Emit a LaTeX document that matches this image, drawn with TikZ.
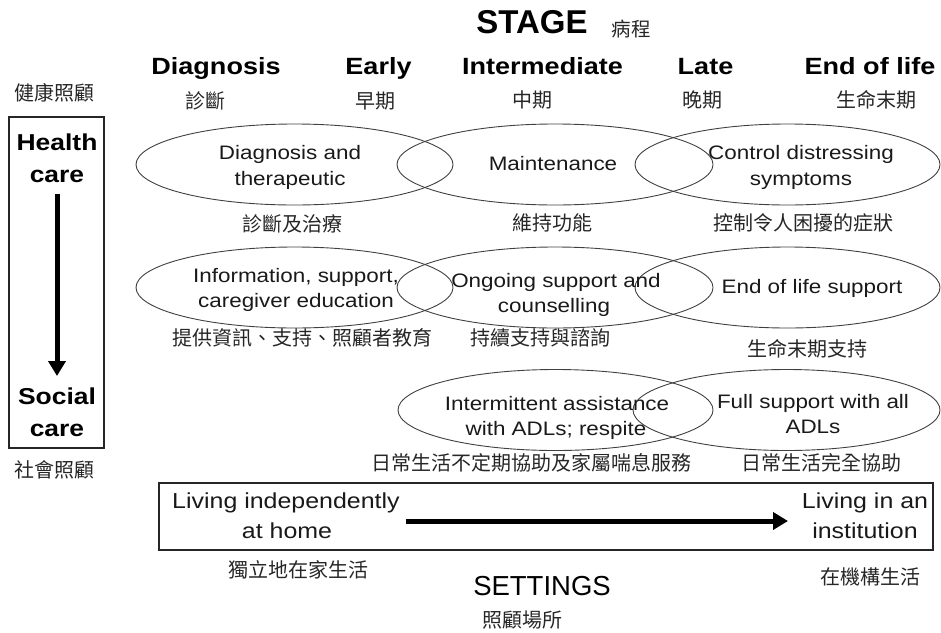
\documentclass[tikz,border=0pt]{standalone}
\usepackage{fontspec}
\setmainfont{Liberation Sans}
\newfontfamily\wide[FakeStretch=1.15]{Liberation Sans}
\newfontfamily\cjk{Noto Sans CJK TC}
\usetikzlibrary{shapes.geometric,arrows.meta}
\tikzset{
 ell/.style={draw=black!75, line width=0.9pt, ellipse, inner sep=0pt, minimum height=81pt},
 body/.style={anchor=base, inner sep=0pt, text=black!90, font=\wide\fontsize{19.5}{23}\selectfont},
 head/.style={anchor=base, inner sep=0pt, font=\wide\bfseries\fontsize{23.5}{27}\selectfont},
 boxt/.style={anchor=base, inner sep=0pt, font=\wide\bfseries\fontsize{23}{27}\selectfont},
 sett/.style={anchor=base, inner sep=0pt, text=black!90, font=\wide\fontsize{21.7}{26}\selectfont},
 zh/.style={inner sep=0pt, text=black!85, font=\cjk\fontsize{20}{24}\selectfont},
 bigarrow/.style={line width=5pt, -{Triangle[length=15pt,width=17pt]}},
 frame/.style={draw=black!85, line width=1.2pt},
}
\begin{document}
\begin{tikzpicture}[x=1pt,y=-1pt]
\useasboundingbox (0,0) rectangle (941,632);
% title
\node[anchor=base, inner sep=0pt, font=\bfseries\fontsize{33}{38}\selectfont] (stage) at (532,33) {STAGE};
\node[zh, font=\cjk\fontsize{19.5}{23}\selectfont] (stagezh) at (631,29) {病程};
% column heads
\node[head] (h1) at (216,74) {Diagnosis};
\node[head] (h2) at (378.5,74) {Early};
\node[head] (h3) at (542.5,74) {Intermediate};
\node[head] (h4) at (705.5,74) {Late};
\node[head] (h5) at (870,74) {End of life};
\node[zh] (z0) at (54,93) {健康照顧};
\node[zh] (z1) at (205,101) {診斷};
\node[zh] (z2) at (375,101) {早期};
\node[zh] (z3) at (532,100) {中期};
\node[zh] (z4) at (702,100) {晚期};
\node[zh] (z5) at (876,100) {生命末期};
% left box
\draw[frame] (9,117) rectangle (104,448);
\node[boxt] (hc1) at (57,150.5) {Health};
\node[boxt] (hc2) at (57,182) {care};
\node[boxt] (sc1) at (57,404) {Social};
\node[boxt] (sc2) at (57,436) {care};
\coordinate (va1) at (57,194);
\coordinate (va2) at (57,376);
\draw[bigarrow] (va1) -- (va2);
\node[zh] (zsc) at (54,470) {社會照顧};
% row 1
\node[ell, minimum width=317pt] (e1) at (294.5,164.5) {};
\node[ell, minimum width=316pt] (e2) at (555,164.5) {};
\node[ell, minimum width=305pt] (e3) at (787.5,164.5) {};
\node[body] (t1a) at (290,159) {Diagnosis and};
\node[body] (t1b) at (290,185) {therapeutic};
\node[body] (t2) at (553,170) {Maintenance};
\node[body] (t3a) at (801,159) {Control distressing};
\node[body] (t3b) at (801,185) {symptoms};
\node[zh] (z6) at (292,224) {診斷及治療};
\node[zh] (z7) at (552,223) {維持功能};
\node[zh] (z8) at (803,223) {控制令人困擾的症狀};
% row 2
\node[ell, minimum width=317pt] (e4) at (294.5,287.5) {};
\node[ell, minimum width=316pt] (e5) at (555,287.5) {};
\node[ell, minimum width=305pt] (e6) at (787.5,287.5) {};
\node[body] (t4a) at (296,282) {Information, support,};
\node[body] (t4b) at (296,307) {caregiver education};
\node[body] (t5a) at (556,287) {Ongoing support and};
\node[body] (t5b) at (554,312) {counselling};
\node[body] (t6) at (812,293) {End of life support};
\node[zh] (z9) at (302,338) {提供資訊、支持、照顧者教育};
\node[zh] (z10) at (540,338) {持續支持與諮詢};
\node[zh] (z11) at (807,349) {生命末期支持};
% row 3
\node[ell, minimum width=315pt] (e7) at (555.5,410) {};
\node[ell, minimum width=307pt] (e8) at (786.5,410) {};
\node[body] (t7a) at (557,410) {Intermittent assistance};
\node[body] (t7b) at (556,435) {with ADLs; respite};
\node[body] (t8a) at (813,408) {Full support with all};
\node[body] (t8b) at (813,433) {ADLs};
\node[zh] (z12) at (531,463) {日常生活不定期協助及家屬喘息服務};
\node[zh] (z13) at (821,463) {日常生活完全協助};
% settings box
\draw[frame] (159,483) rectangle (933,550);
\node[sett] (s1a) at (286,508) {Living independently};
\node[sett] (s1b) at (287,538) {at home};
\node[sett] (s2a) at (865,508) {Living in an};
\node[sett] (s2b) at (865,538) {institution};
\coordinate (ha1) at (406,521);
\coordinate (ha2) at (788,521);
\draw[bigarrow] (ha1) -- (ha2);
\node[zh] (z14) at (298,570) {獨立地在家生活};
\node[zh] (z15) at (870,577) {在機構生活};
\node[anchor=base, inner sep=0pt, font=\fontsize{27.5}{32}\selectfont] (settings) at (542,595) {SETTINGS};
\node[zh] (z16) at (522,620) {照顧場所};
\end{tikzpicture}
\end{document}
